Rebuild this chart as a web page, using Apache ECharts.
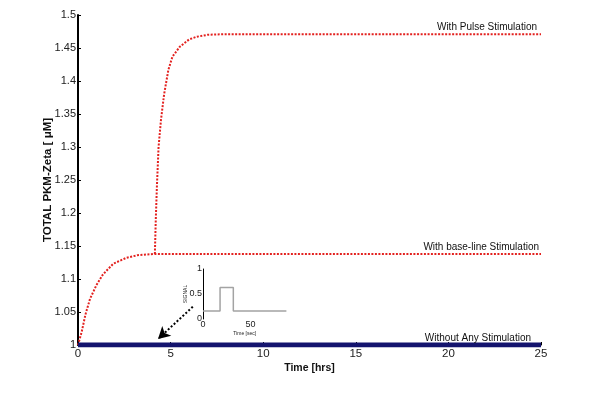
<!DOCTYPE html>
<html><head><meta charset="utf-8">
<script src="https://cdn.jsdelivr.net/npm/echarts@6/dist/echarts.min.js"></script>
<style>html,body{margin:0;padding:0;background:#fff}#c{width:600px;height:408px}</style>
</head><body><div id="c"></div>
<script>
// Main chart data
const baseT = [0, 0.2, 0.4, 0.65, 1.0, 1.35, 1.9, 2.6, 3.2, 3.7, 4.15, 25];
const baseV = [1.0, 1.02, 1.046, 1.07, 1.091, 1.107, 1.123, 1.132, 1.136, 1.137, 1.138, 1.138];
const pulseT = [4.15, 4.2, 4.26, 4.35, 4.48, 4.65, 4.88, 5.1, 5.5, 6.0, 6.4, 7.0, 8.0, 25];
const pulseV = [1.138, 1.19, 1.24, 1.30, 1.341, 1.38, 1.417, 1.437, 1.452, 1.463, 1.467, 1.470, 1.471, 1.471];
const noneT = [0, 25];
const noneV = [1.0, 1.0];
const xTicks = [0, 5, 10, 15, 20, 25];
const yTicks = [1, 1.05, 1.1, 1.15, 1.2, 1.25, 1.3, 1.35, 1.4, 1.45, 1.5];
const curveLabels = ['With Pulse Stimulation', 'With base-line Stimulation', 'Without Any Stimulation'];
// annotation arrow (data coords): start, end
const arrowStart = [6.2, 1.058];
const arrowEnd = [4.32, 1.009];
// Inset (signal) data
const sigT = [0, 18, 18, 32, 32, 88];
const sigV = [0.16, 0.16, 0.63, 0.63, 0.16, 0.16];
const insetXTicks = [0, 50];
const insetYTicks = [0, 0.5, 1];

const zip = (a, b) => a.map((v, i) => [v, b[i]]);
const FONT = 'Liberation Sans, Arial, sans-serif';
const chart = echarts.init(document.getElementById('c'), null, {renderer: 'canvas'});
const red = '#e3211f';

chart.setOption({
  animation: false,
  backgroundColor: '#fff',
  grid: [
    {left: 78, right: 59, top: 15, bottom: 63},
    {left: 203, top: 269, width: 83.4, height: 50}
  ],
  xAxis: [
    {gridIndex: 0, type: 'value', min: 0, max: 25, interval: 5,
      name: 'Time [hrs]', nameLocation: 'middle', nameGap: 18, nameMoveOverlap: false,
      nameTextStyle: {fontFamily: FONT, fontWeight: 'bold', fontSize: 10.5, color: '#111'},
      axisLine: {show: true, lineStyle: {color: '#000', width: 1}},
      axisTick: {show: true, inside: true, length: 3, lineStyle: {color: '#000'}},
      axisLabel: {fontFamily: FONT, fontSize: 11.5, color: '#222', margin: 3,
        customValues: xTicks},
      splitLine: {show: false}},
    {gridIndex: 1, type: 'value', min: 0, max: 88,
      axisLine: {show: false},
      axisTick: {show: false},
      axisLabel: {fontFamily: FONT, fontSize: 9, color: '#222', margin: 1,
        customValues: insetXTicks},
      name: 'Time [sec]', nameLocation: 'middle', nameGap: 12, nameMoveOverlap: false,
      nameTextStyle: {fontFamily: FONT, fontSize: 5, color: '#222'},
      splitLine: {show: false}}
  ],
  yAxis: [
    {gridIndex: 0, type: 'value', min: 1, max: 1.5, interval: 0.05,
      name: 'TOTAL PKM-Zeta [ \u03bcM]', nameLocation: 'middle', nameGap: 24, nameMoveOverlap: false,
      nameTextStyle: {fontFamily: FONT, fontWeight: 'bold', fontSize: 11.5, color: '#111'},
      axisLine: {show: true, lineStyle: {color: '#000', width: 2}},
      axisTick: {show: true, inside: true, length: 3, lineStyle: {color: '#000', width: 1}},
      axisLabel: {fontFamily: FONT, fontSize: 11, color: '#222', margin: 2,
        formatter: v => String(+v.toFixed(2))},
      splitLine: {show: false}},
    {gridIndex: 1, type: 'value', min: 0, max: 1, interval: 0.5,
      axisLine: {show: true, lineStyle: {color: '#000', width: 1}},
      axisTick: {show: false},
      axisLabel: {fontFamily: FONT, fontSize: 9, color: '#222', margin: 1,
        customValues: insetYTicks},
      name: 'SIGNAL', nameLocation: 'middle', nameGap: 15, nameMoveOverlap: false,
      nameTextStyle: {fontFamily: FONT, fontSize: 5, color: '#222'},
      splitLine: {show: false}}
  ],
  series: [
    {type: 'line', xAxisIndex: 0, yAxisIndex: 0, data: zip(baseT, baseV), showSymbol: false,
      lineStyle: {color: red, width: 2, type: [2, 1.5]}, z: 3},
    {type: 'line', xAxisIndex: 0, yAxisIndex: 0, data: zip(pulseT, pulseV), showSymbol: false,
      lineStyle: {color: red, width: 2, type: [2, 1.5]}, z: 3},
    {type: 'line', xAxisIndex: 0, yAxisIndex: 0, data: zip(noneT, noneV), showSymbol: false,
      lineStyle: {color: '#14146e', width: 5}, z: 4,
      markLine: {silent: true, symbol: ['none', 'arrow'], symbolSize: [10, 12],
        label: {show: false},
        lineStyle: {color: '#000', width: 2, type: [2, 2]},
        data: [[{coord: arrowStart}, {coord: arrowEnd}]]}},
    {type: 'line', xAxisIndex: 1, yAxisIndex: 1, data: zip(sigT, sigV), showSymbol: false,
      lineStyle: {color: '#a3a3a3', width: 1.5}}
  ]
});

// Curve labels anchored at the right end of each curve
const ends = [[25, pulseV[pulseV.length - 1]], [25, baseV[baseV.length - 1]], [25, noneV[0]]];
const dy = [-7, -7, -7];
const dx = [-4, -2, -10];
const g = ends.map((p, i) => {
  const px = chart.convertToPixel({gridIndex: 0}, p);
  return {type: 'text', x: px[0] + dx[i], y: px[1] + dy[i],
    style: {text: curveLabels[i], fill: '#111', font: '10px ' + FONT, align: 'right', verticalAlign: 'middle'}, z: 10};
});
chart.setOption({graphic: g});
</script></body></html>
